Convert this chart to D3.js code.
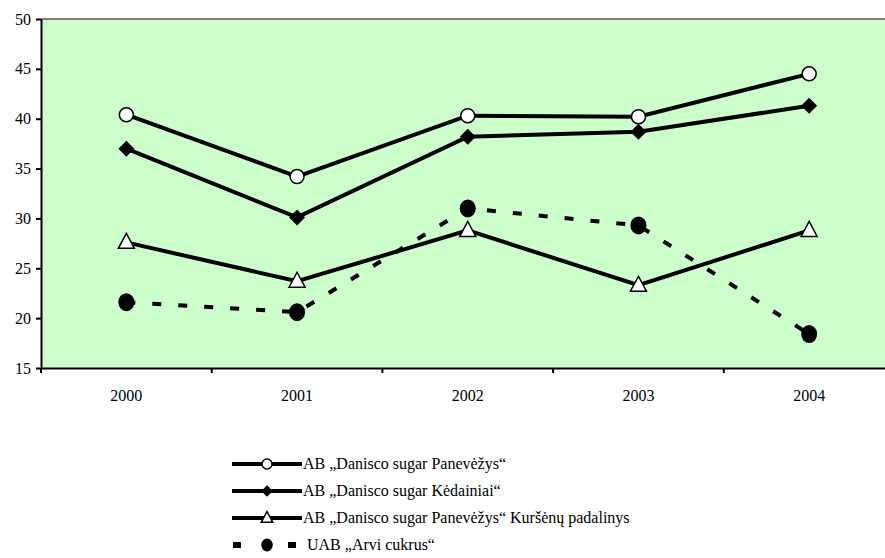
<!DOCTYPE html>
<html><head><meta charset="utf-8">
<script src="https://cdn.jsdelivr.net/npm/d3@7"></script>
<style>body{margin:0;background:#fff}svg{display:block}</style>
</head><body><svg id="c" width="885" height="558"></svg>
<script>
const years = ["2000","2001","2002","2003","2004"];
const panevezys = [40.4, 34.2, 40.3, 40.2, 44.5];
const kedainiai = [37.0, 30.1, 38.2, 38.7, 41.3];
const kursenai = [27.6, 23.7, 28.8, 23.3, 28.8];
const arvi = [21.6, 20.6, 31.0, 29.3, 18.4];
const yTicks = [15, 20, 25, 30, 35, 40, 45, 50];
const seriesNames = ["AB \u201eDanisco sugar Panev\u0117\u017eys\u201c", "AB \u201eDanisco sugar K\u0117dainiai\u201c", "AB \u201eDanisco sugar Panev\u0117\u017eys\u201c Kur\u0161\u0117n\u0173 padalinys", "UAB \u201eArvi cukrus\u201c"];

const series = [
  {name: seriesNames[0], values: panevezys, marker: "circleOpen", dash: null},
  {name: seriesNames[1], values: kedainiai, marker: "diamond", dash: null},
  {name: seriesNames[2], values: kursenai, marker: "triangle", dash: null},
  {name: seriesNames[3], values: arvi, marker: "circleFilled", dash: "9,17"}
];
const FONT = "'Liberation Serif', 'DejaVu Serif', serif";

const svg = d3.select("#c");
const L = 41, T = 19, B = 368, bandW = 170.7;
const x = d3.scaleBand().domain(years).range([L, L + bandW * years.length]);
const y = d3.scaleLinear().domain([15, 50]).range([B, T]);

svg.append("rect").attr("x", L).attr("y", T).attr("width", 885 - L).attr("height", B - T).attr("fill", "#CCFFCC");
svg.append("line").attr("x1", L).attr("x2", 885).attr("y1", T).attr("y2", T).attr("stroke", "#808080").attr("stroke-width", 2);

const yAxis = svg.append("g").attr("transform", `translate(${L},0)`)
  .call(d3.axisLeft(y).tickValues(yTicks).tickSize(5).tickSizeOuter(0).tickPadding(5));
yAxis.attr("font-family", FONT);
yAxis.select(".domain").attr("stroke", "#000").attr("stroke-width", 2);
yAxis.selectAll(".tick line").attr("stroke", "#000").attr("stroke-width", 2);
yAxis.selectAll("text").style("font-family", FONT).attr("font-size", 16).attr("fill", "#000");

const xAxis = svg.append("g").attr("transform", `translate(0,${B})`)
  .call(d3.axisBottom(x).tickSize(0).tickPadding(22));
xAxis.attr("font-family", FONT);
xAxis.select(".domain").attr("stroke", "#000").attr("stroke-width", 2);
xAxis.selectAll("text").style("font-family", FONT).attr("font-size", 16).attr("fill", "#000");
const bounds = years.map(d => x(d)).concat([x(years[years.length-1]) + x.bandwidth()]);
svg.append("g").selectAll("line").data(bounds).join("line")
  .attr("x1", d => d).attr("x2", d => d).attr("y1", B).attr("y2", B + 5)
  .attr("stroke", "#000").attr("stroke-width", 2);

const cx = d => x(d) + x.bandwidth() / 2;
const line = d3.line().x(d => cx(d.year)).y(d => y(d.v));

function drawMarker(g, type, px, py, k) {
  k = k || 1;
  if (type === "circleOpen") {
    g.append("circle").attr("cx", px).attr("cy", py).attr("r", 7 * k).attr("fill", "#fff").attr("stroke", "#000").attr("stroke-width", 1.5);
  } else if (type === "circleFilled") {
    g.append("ellipse").attr("cx", px).attr("cy", py).attr("rx", 8 * k).attr("ry", 9 * k).attr("fill", "#000");
  } else if (type === "diamond") {
    g.append("path").attr("d", `M${px},${py-8*k}L${px+8*k},${py}L${px},${py+8*k}L${px-8*k},${py}Z`).attr("fill", "#000");
  } else if (type === "triangle") {
    g.append("path").attr("d", `M${px},${py-9*k}L${px+8*k},${py+6*k}L${px-8*k},${py+6*k}Z`).attr("fill", "#fff").attr("stroke", "#000").attr("stroke-width", 1.5);
  }
}

series.forEach(s => {
  const pts = years.map((yr, i) => ({year: yr, v: s.values[i]}));
  svg.append("path").datum(pts).attr("d", line).attr("fill", "none").attr("stroke", "#000")
    .attr("stroke-width", 4).attr("stroke-dasharray", s.dash);
  const g = svg.append("g");
  pts.forEach(p => drawMarker(g, s.marker, cx(p.year), y(p.v)));
});

const legY = [464, 491, 518, 545];
series.forEach((s, i) => {
  const g = svg.append("g");
  const yy = legY[i];
  if (s.dash) {
    g.append("rect").attr("x", 233).attr("y", yy - 3).attr("width", 8).attr("height", 6).attr("fill", "#000");
    g.append("rect").attr("x", 288).attr("y", yy - 3).attr("width", 8).attr("height", 6).attr("fill", "#000");
  } else {
    g.append("line").attr("x1", 232).attr("x2", 302).attr("y1", yy).attr("y2", yy).attr("stroke", "#000").attr("stroke-width", 4);
  }
  drawMarker(g, s.marker, 267, yy, 0.72);
  g.append("text").attr("x", s.dash ? 307 : 303).attr("y", yy + 5).attr("font-size", 16)
    .style("font-family", FONT).attr("fill", "#000").text(s.name);
});
</script></body></html>
